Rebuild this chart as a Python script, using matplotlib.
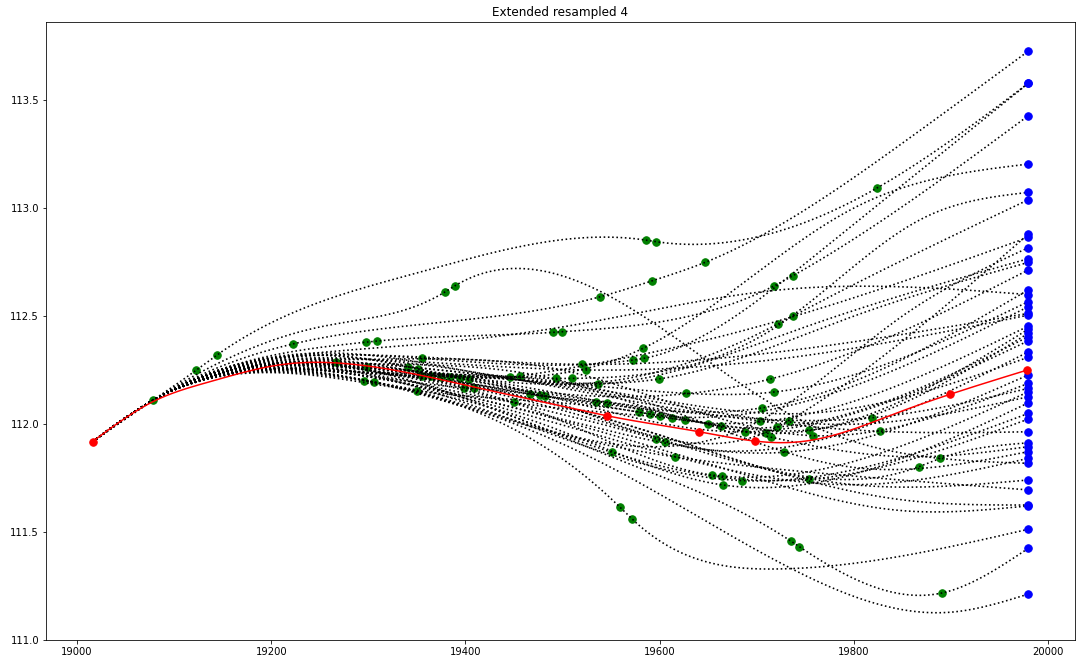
import numpy as np
import matplotlib
matplotlib.use("Agg")
import matplotlib.pyplot as plt

# Shared anchor points of every path
start_pt = (19016, 111.92)
common_pt = (19078, 112.11)
end_x = 19980

# Final value of each resampled path
end_vals = [
    113.727, 113.578, 113.578, 113.428, 113.204, 113.073, 113.039, 112.880,
    112.865, 112.817, 112.766, 112.749, 112.714, 112.622, 112.600, 112.567,
    112.544, 112.513, 112.505, 112.454, 112.440, 112.421, 112.405, 112.386,
    112.335, 112.310, 112.228, 112.189, 112.166, 112.150, 112.127, 112.099,
    112.050, 112.024, 111.965, 111.914, 111.896, 111.873, 111.842, 111.819,
    111.742, 111.696, 111.626, 111.622, 111.514, 111.426, 111.214,
]

# Resampled (green) points of each path
green_pts = [
    [(19222, 112.371), (19539, 112.590), (19592, 112.663), (19647, 112.749)],
    [(19123, 112.251), (19144, 112.320), (19586, 112.852), (19596, 112.845), (19824, 113.093)],
    [(19355, 112.305), (19573, 112.297), (19584, 112.305)],
    [(19298, 112.380), (19309, 112.385), (19490, 112.425), (19500, 112.428), (19718, 112.640), (19737, 112.686)],
    [(19299, 112.266), (19583, 112.351)],
    [(19267, 112.289), (19493, 112.212), (19510, 112.212)],
    [(19722, 112.464), (19738, 112.502)],
    [(19394, 112.214), (19404, 112.210), (19721, 111.986), (19733, 112.016)],
    [(19446, 112.217), (19456, 112.223)],
    [(19296, 112.201), (19306, 112.194), (19703, 112.015)],
    [(19537, 112.185)],
    [(19355, 112.225), (19365, 112.225), (19599, 112.209)],
    [(19341, 112.266), (19351, 112.255), (19714, 112.209)],
    [(19467, 112.140), (19477, 112.134), (19706, 112.076)],
    [],
    [(19375, 112.220), (19384, 112.220), (19627, 112.143), (19718, 112.149)],
    [(19399, 112.169), (19409, 112.166), (19579, 112.055), (19590, 112.047)],
    [(19520, 112.277)],
    [(19524, 112.251)],
    [(19350, 112.155), (19601, 112.038), (19613, 112.027)],
    [(19535, 112.104), (19546, 112.100), (19710, 111.958)],
    [(19450, 112.101), (19626, 112.019), (19754, 111.973)],
    [(19650, 112.001), (19663, 111.992)],
    [(19482, 112.132), (19688, 111.965)],
    [(19596, 111.932), (19606, 111.919)],
    [],
    [(19728, 111.870)],
    [(19758, 111.947)],
    [(19819, 112.030)],
    [(19654, 111.765), (19664, 111.760)],
    [],
    [(19665, 111.719)],
    [(19685, 111.739)],
    [(19551, 111.870), (19754, 111.745)],
    [(19827, 111.967)],
    [(19867, 111.803), (19889, 111.842)],
    [(19715, 111.939)],
    [],
    [(19616, 111.850)],
    [(19379, 112.612), (19389, 112.640)],
    [],
    [],
    [],
    [],
    [(19559, 111.617), (19572, 111.560)],
    [(19735, 111.460), (19744, 111.433), (19891, 111.219)],
    [],
]

# Intermediate (unmarked) values along each path
guide_pts = [
    [(19850, 113.30)],
    [(19350, 112.70)],
    [(19760, 112.78)],
    [],
    [(19800, 113.00)],
    [(19720, 112.45), (19870, 112.95)],
    [(19300, 112.27), (19550, 112.20)],
    [],
    [(19300, 112.30), (19700, 112.45)],
    [(19850, 112.50)],
    [(19300, 112.32), (19750, 112.45)],
    [(19800, 112.50)],
    [],
    [(19300, 112.28)],
    [(19300, 112.35), (19500, 112.45), (19720, 112.62)],
    [],
    [],
    [(19300, 112.32), (19750, 112.35)],
    [(19300, 112.30), (19720, 112.30)],
    [],
    [(19300, 112.26)],
    [],
    [(19300, 112.28), (19500, 112.20)],
    [(19300, 112.27)],
    [(19300, 112.25), (19450, 112.10)],
    [(19300, 112.26), (19550, 112.15), (19750, 112.05)],
    [(19300, 112.22), (19520, 112.00)],
    [(19300, 112.30), (19500, 112.25)],
    [(19300, 112.24), (19550, 112.10)],
    [(19300, 112.25), (19480, 112.05)],
    [(19300, 112.28), (19600, 112.10), (19800, 112.00)],
    [(19300, 112.20), (19480, 112.00)],
    [(19300, 112.23)],
    [(19300, 112.25)],
    [(19300, 112.30), (19580, 112.10)],
    [(19300, 112.25), (19600, 111.95)],
    [(19300, 112.27), (19850, 111.85)],
    [(19300, 112.24), (19550, 112.15), (19800, 111.80)],
    [(19300, 112.22), (19800, 111.72)],
    [(19250, 112.45), (19460, 112.72), (19745, 112.02)],
    [(19300, 112.25), (19550, 112.00), (19800, 111.72)],
    [(19300, 112.20), (19500, 111.95), (19750, 111.78)],
    [(19300, 112.26), (19600, 111.95), (19850, 111.65)],
    [(19300, 112.22), (19700, 111.75), (19850, 111.60)],
    [(19300, 112.20), (19720, 111.33)],
    [(19300, 112.25), (19550, 111.85)],
    [(19300, 112.20), (19550, 111.80), (19750, 111.30), (19900, 111.13)],
]

# Reference series (red)
ref_x = [19016, 19078, 19137, 19209, 19291, 19415, 19518, 19546, 19641,
         19698, 19745, 19797, 19848, 19899, 19979]
ref_y = [111.920, 112.104, 112.197, 112.275, 112.274, 112.166, 112.066, 112.039,
         111.965, 111.922, 111.919, 111.973, 112.058, 112.138, 112.251]
ref_marked_x = [19016, 19546, 19641, 19698, 19899, 19979]
ref_marked_y = [111.920, 112.039, 111.965, 111.922, 112.138, 112.251]


def natural_spline(xk, yk, xs):
    xk = np.asarray(xk, float) - 19000.0
    yk = np.asarray(yk, float)
    xs = np.asarray(xs, float) - 19000.0
    n = len(xk)
    h = np.diff(xk)
    A = np.zeros((n, n))
    rhs = np.zeros(n)
    A[0, 0] = 1.0
    A[-1, -1] = 1.0
    for i in range(1, n - 1):
        A[i, i - 1] = h[i - 1]
        A[i, i] = 2.0 * (h[i - 1] + h[i])
        A[i, i + 1] = h[i]
        rhs[i] = 3.0 * ((yk[i + 1] - yk[i]) / h[i] - (yk[i] - yk[i - 1]) / h[i - 1])
    c = np.linalg.solve(A, rhs)
    b = (yk[1:] - yk[:-1]) / h - h * (2.0 * c[:-1] + c[1:]) / 3.0
    d = (c[1:] - c[:-1]) / (3.0 * h)
    idx = np.clip(np.searchsorted(xk, xs) - 1, 0, n - 2)
    dx = xs - xk[idx]
    return yk[idx] + b[idx] * dx + c[idx] * dx ** 2 + d[idx] * dx ** 3


DPI = 72
MS = 7.5
fig = plt.figure(figsize=(1079 / DPI, 659 / DPI), dpi=DPI)
ax = fig.add_axes([46 / 1079, 18.7 / 659, 1029 / 1079, 618 / 659])

for greens, guides, yend in zip(green_pts, guide_pts, end_vals):
    knots = sorted([start_pt, common_pt] + greens + guides + [(end_x, yend)])
    kx = [k[0] for k in knots]
    ky = [k[1] for k in knots]
    xs = np.linspace(kx[0], kx[-1], 600)
    ax.plot(xs, natural_spline(kx, ky, xs), 'k:', lw=1.6, zorder=3)

all_green = [common_pt] + [p for g in green_pts for p in g]
ax.plot([p[0] for p in all_green], [p[1] for p in all_green], 'o',
        color='green', ms=MS, ls='none', zorder=2)

ax.plot([end_x] * len(end_vals), end_vals, 'o', color='blue', ms=MS,
        ls='none', zorder=4)

rx = np.linspace(ref_x[0], ref_x[-1], 600)
ax.plot(rx, natural_spline(ref_x, ref_y, rx), color='red', lw=1.5, zorder=5)
ax.plot(ref_marked_x, ref_marked_y, 'o', color='red', ms=MS, ls='none', zorder=6)

ax.set_xlim(18968, 20028)
ax.set_ylim(111.0, 113.86)
ax.set_xticks([19000, 19200, 19400, 19600, 19800, 20000])
ax.set_yticks([111.0, 111.5, 112.0, 112.5, 113.0, 113.5])
ax.set_title("Extended resampled 4")

fig.savefig("out.png", dpi=DPI)
